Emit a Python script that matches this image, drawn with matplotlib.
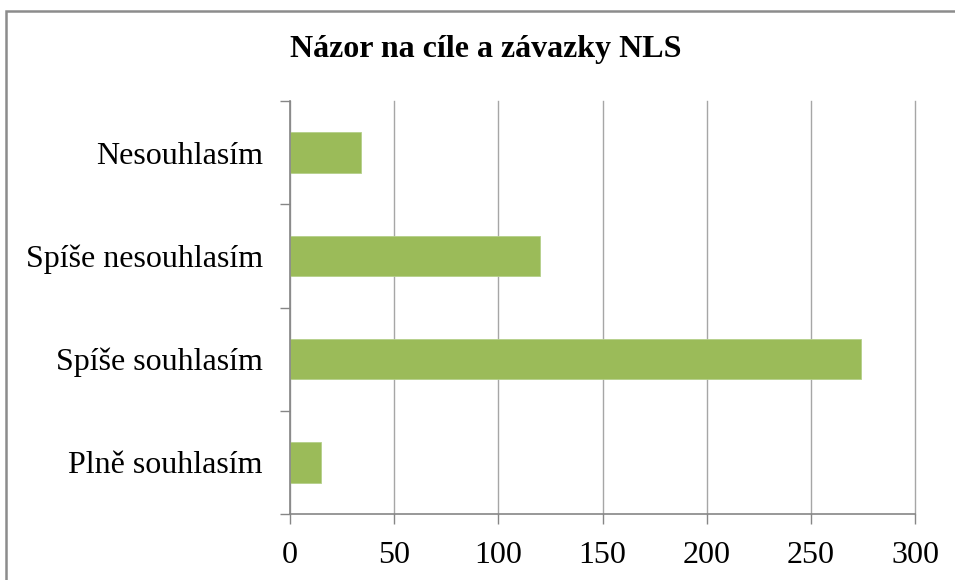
import matplotlib
matplotlib.use("Agg")
import matplotlib.pyplot as plt
from matplotlib.patches import Rectangle
import numpy as np

# data (bottom to top as drawn)
categories = ["Plně souhlasím", "Spíše souhlasím", "Spíše nesouhlasím", "Nesouhlasím"]
counts = [15, 274, 120, 34]
x_ticks = [0, 50, 100, 150, 200, 250, 300]
title = "Názor na cíle a závazky NLS"

BAR_COLOR = "#9BBB59"
AXIS_COLOR = "#868686"
GRID_COLOR = "#A6A6A6"

plt.rcParams["font.family"] = ["Liberation Serif", "DejaVu Serif"]

fig = plt.figure(figsize=(9.55, 5.8), dpi=100)
ax = fig.add_axes([290 / 955, 1 - 514 / 580, 625 / 955, 413 / 580])

pos = np.arange(len(categories))
ax.barh(pos, counts, height=0.39, color=BAR_COLOR, edgecolor="#B5D08A", linewidth=0.6, zorder=3)

ax.set_xlim(0, 300)
ax.set_ylim(-0.5, len(categories) - 0.5)
ax.set_xticks(x_ticks)
ax.set_xticklabels([str(t) for t in x_ticks], fontsize=23)
ax.tick_params(axis="x", direction="out", length=7.5, width=1, color=AXIS_COLOR, pad=12)

# category boundaries get the tick marks, centres get the labels
ax.set_yticks(np.arange(-0.5, len(categories), 1.0))
ax.set_yticklabels([])
ax.set_yticks(pos, minor=True)
ax.set_yticklabels(categories, minor=True, fontsize=23)
ax.tick_params(axis="y", which="major", direction="out", length=7.5, width=1, color=AXIS_COLOR)
ax.tick_params(axis="y", which="minor", length=0, pad=19.5)

ax.grid(axis="x", color=GRID_COLOR, linewidth=1, zorder=0)
for gl in ax.get_xgridlines():
    gl.set_clip_on(False)
ax.set_axisbelow(True)
for side in ["top", "right"]:
    ax.spines[side].set_visible(False)
for side in ["left", "bottom"]:
    ax.spines[side].set_color(AXIS_COLOR)
    ax.spines[side].set_linewidth(1.2)
    ax.spines[side].set_zorder(4)

fig.text(486 / 955, 1 - 50 / 580, title, ha="center", va="center",
         fontsize=23, fontweight="bold")

# outer chart frame, cut off at right and bottom
fig.patches.append(Rectangle((6 / 955, -0.1), 1.2, 1.1 - 11 / 580,
                             transform=fig.transFigure, fill=False,
                             edgecolor="#8C8C8C", linewidth=1.8))

fig.savefig("out.png", dpi=100)
